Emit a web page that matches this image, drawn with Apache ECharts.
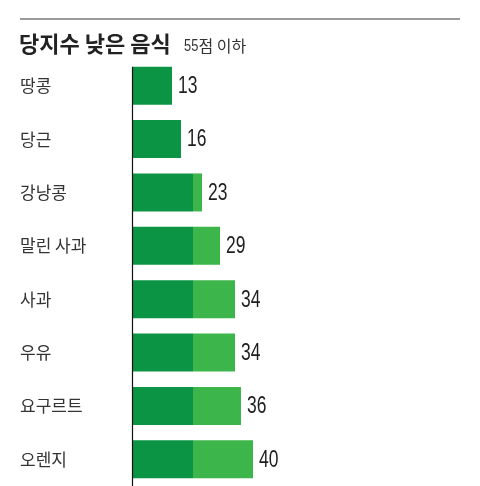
<!DOCTYPE html>
<html>
<head>
<meta charset="utf-8">
<script src="https://cdn.jsdelivr.net/npm/echarts@6/dist/echarts.min.js"></script>
<style>
html,body{margin:0;padding:0;background:#fff;}
#c{width:480px;height:486px;}
</style>
</head>
<body>
<div id="c"></div>
<script>
var categories = ['땅콩', '당근', '강낭콩', '말린 사과', '사과', '우유', '요구르트', '오렌지'];
var values = [13, 16, 23, 29, 34, 34, 36, 40];
var darkCap = 20;
var titleMain = '당지수 낮은 음식';
var titleSubNum = '55';
var titleSubText = '점 이하';

var darkPart = values.map(function (v) { return Math.min(v, darkCap); });
var lightPart = values.map(function (v) { return Math.max(v - darkCap, 0); });
var labelData = values.map(function (v, i) { return [v, i]; });

var chart = echarts.init(document.getElementById('c'), null, {renderer: 'canvas'});
var numFont = "'Liberation Sans', Arial, sans-serif";
var krFont = "'Noto Sans CJK KR', 'Noto Sans', sans-serif";

chart.setOption({
  animation: false,
  backgroundColor: '#fff',
  grid: {left: 133, width: 300, top: 59, bottom: 0, containLabel: false},
  xAxis: {
    type: 'value', min: 0, max: 100,
    show: false
  },
  yAxis: {
    type: 'category',
    data: categories,
    inverse: true,
    axisLine: {show: false},
    axisTick: {show: false},
    splitLine: {show: false},
    axisLabel: {
      align: 'left',
      margin: 113,
      fontFamily: krFont,
      fontSize: 17,
      color: '#333'
    }
  },
  series: [
    {
      type: 'bar', stack: 'gi', data: darkPart, barWidth: 38,
      itemStyle: {color: '#0a9443'}
    },
    {
      type: 'bar', stack: 'gi', data: lightPart, barWidth: 38,
      itemStyle: {color: '#3cb54a'}
    },
    {
      type: 'custom',
      data: labelData,
      encode: {x: 0, y: 1},
      z: 5,
      renderItem: function (params, api) {
        var p = api.coord([api.value(0), api.value(1)]);
        return {
          type: 'text',
          x: p[0] + 6,
          y: p[1] + 1,
          scaleX: 0.76,
          style: {
            text: String(api.value(0)),
            font: 'normal 23px ' + numFont,
            fill: '#1e1e1e',
            align: 'left',
            verticalAlign: 'middle'
          }
        };
      }
    }
  ]
});

var x0 = chart.convertToPixel({xAxisIndex: 0}, 0);
var yTop = chart.convertToPixel({yAxisIndex: 0}, categories[0]) - 19;
chart.setOption({
  graphic: [
    {type: 'line', shape: {x1: 20, y1: 19, x2: 460, y2: 19}, style: {stroke: '#9a9a9a', lineWidth: 2}},
    {type: 'line', shape: {x1: x0 - 0.5, y1: yTop, x2: x0 - 0.5, y2: chart.getHeight()}, style: {stroke: '#111', lineWidth: 1.2}, z: 10},
    {type: 'text', x: 19, y: 44, style: {text: titleMain, font: 'bold 22px ' + krFont, fill: '#222', align: 'left', verticalAlign: 'middle'}},
    {type: 'text', x: 184, y: 46.5, scaleX: 0.78, style: {text: titleSubNum, font: 'normal 16.5px ' + numFont, fill: '#333', align: 'left', verticalAlign: 'middle'}},
    {type: 'text', x: 198.5, y: 46, style: {text: titleSubText, font: 'normal 16px ' + krFont, fill: '#333', align: 'left', verticalAlign: 'middle'}}
  ]
});
</script>
</body>
</html>
